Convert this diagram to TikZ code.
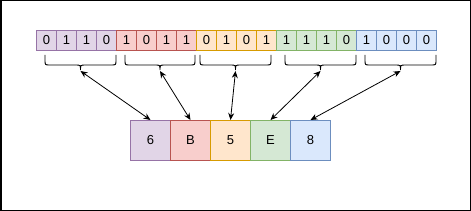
\documentclass[tikz,border=0pt]{standalone}
\usepackage{fontspec}
\setmainfont{Liberation Sans}
\usetikzlibrary{arrows.meta}
\definecolor{pf}{HTML}{E1D5E7}\definecolor{ps}{HTML}{9673A6}
\definecolor{rf}{HTML}{F8CECC}\definecolor{rs}{HTML}{B85450}
\definecolor{of}{HTML}{FFE6CC}\definecolor{os}{HTML}{D79B00}
\definecolor{gf}{HTML}{D5E8D4}\definecolor{gs}{HTML}{82B366}
\definecolor{bf}{HTML}{DAE8FC}\definecolor{bs}{HTML}{6C8EBF}
\tikzset{
  bitcell/.style={draw=#1s, fill=#1f, line width=1pt, minimum width=20pt, minimum height=20pt, inner sep=0pt, anchor=north west, font=\fontsize{13}{15}\selectfont},
  hexcell/.style={draw=#1s, fill=#1f, line width=1pt, minimum width=40pt, minimum height=40pt, inner sep=0pt, anchor=north west, font=\fontsize{13}{15}\selectfont},
  bracepath/.style={draw=black, line width=0.9pt},
  link/.style={draw=black, line width=0.8pt, {Stealth[length=7pt,width=6pt]}-{Stealth[length=7pt,width=6pt]}},
}
\begin{document}
\begin{tikzpicture}[x=1pt,y=-1pt]
\useasboundingbox (0,0) rectangle (471,211);
\draw[line width=1.5pt] (0.75,0.75) rectangle (470.25,210.25);
% bit cells
\foreach \v/\c [count=\i from 0] in {0/p,1/p,1/p,0/p,1/r,0/r,1/r,1/r,0/o,1/o,0/o,1/o,1/g,1/g,1/g,0/g,1/b,0/b,0/b,0/b}
  \node[bitcell=\c] (b\i) at (36+20*\i,30) {\v};
% hex cells
\foreach \v/\c [count=\i from 1] in {6/p,B/r,5/o,E/g,8/b}
  \node[hexcell=\c] (h\i) at (90+40*\i,120) {\v};
% braces
\foreach \l/\r [count=\i from 1] in {45/116,125/195,200/271,285/356,365/436}{
  \pgfmathsetmacro{\m}{(\l+\r)/2}
  \draw[bracepath] (\l,55) -- (\l,60) .. controls (\l,65) .. (\l+5,65) -- (\m-5,65)
     .. controls (\m,65) .. (\m,70) .. controls (\m,65) .. (\m+5,65) -- (\r-5,65)
     .. controls (\r,65) .. (\r,60) -- (\r,55);
  \coordinate (t\i) at (\m,71);
}
\foreach \i in {1,...,5}
  \draw[link] (t\i) -- (h\i.north);
\end{tikzpicture}
\end{document}
